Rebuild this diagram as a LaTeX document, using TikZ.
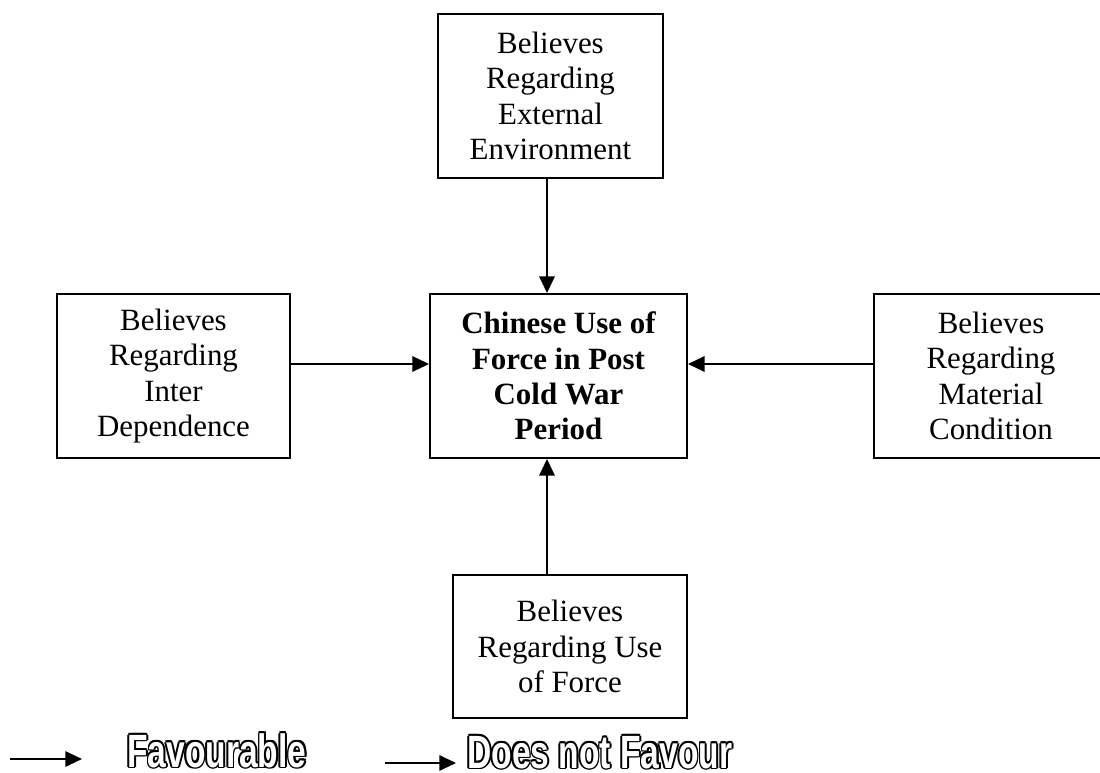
\documentclass[tikz,border=0pt]{standalone}
\usepackage{fontspec}
\setmainfont{Liberation Serif}
\newfontfamily\legfont[FakeStretch=0.72]{Liberation Sans}
\usetikzlibrary{arrows.meta}
\newcommand\oltc[3]{\rlap{\hspace*{#1}\raisebox{#2}{#3}}}
\newcommand\myoutl[1]{\oltc{1.3pt}{0pt}{#1}\oltc{-1.3pt}{0pt}{#1}\oltc{0pt}{1.3pt}{#1}\oltc{0pt}{-1.3pt}{#1}\oltc{0.9pt}{0.9pt}{#1}\oltc{-0.9pt}{0.9pt}{#1}\oltc{0.9pt}{-0.9pt}{#1}\oltc{-0.9pt}{-0.9pt}{#1}\textcolor{white}{#1}}
\tikzset{
  box/.style={draw=black, line width=1.4pt, rectangle, inner sep=0pt, align=center,
    font=\fontsize{23.2pt}{26.5pt}\selectfont, minimum height=123pt},
  arr/.style={line width=1.5pt, -{Triangle[length=12.5pt,width=11.5pt]}},
  legtext/.style={anchor=base west, inner sep=0pt, font=\legfont\bfseries\fontsize{35pt}{40pt}\selectfont}
}
\begin{document}
\begin{tikzpicture}[x=0.75pt,y=-0.75pt]
\clip (0,0) rectangle (1100,773);
\node[box, minimum width=168.75pt] (top) at (550.5,96) {Believes\\Regarding\\External\\Environment};
\node[box, minimum width=174.75pt] (left) at (173.5,376) {Believes\\Regarding\\Inter\\Dependence};
\node[box, minimum width=192.75pt, font=\bfseries\fontsize{23.2pt}{26.5pt}\selectfont] (center) at (558.5,376) {Chinese Use of\\Force in Post\\Cold War\\Period};
\node[box, minimum width=175.5pt] (right) at (991,376) {Believes\\Regarding\\Material\\Condition};
\node[box, minimum width=175.5pt, minimum height=107.25pt] (bottom) at (570,646.5) {Believes\\Regarding Use\\of Force};
\coordinate (vx) at (547,0);
\coordinate (hy) at (0,364);
\draw[arr] (top.south -| vx) -- (center.north -| vx);
\draw[arr] (bottom.north -| vx) -- (center.south -| vx);
\draw[arr] (left.east |- hy) -- (center.west |- hy);
\draw[arr] (right.west |- hy) -- (center.east |- hy);
\coordinate (l1a) at (10,759);
\coordinate (l1b) at (82,759);
\coordinate (l2a) at (385,763);
\coordinate (l2b) at (456,763);
\draw[arr] (l1a) -- (l1b);
\draw[arr] (l2a) -- (l2b);
\node[legtext] (fav) at (127,767) {\myoutl{Favourable}};
\node[legtext] (dnf) at (467,768) {\myoutl{Does not Favour}};
\end{tikzpicture}
\end{document}
